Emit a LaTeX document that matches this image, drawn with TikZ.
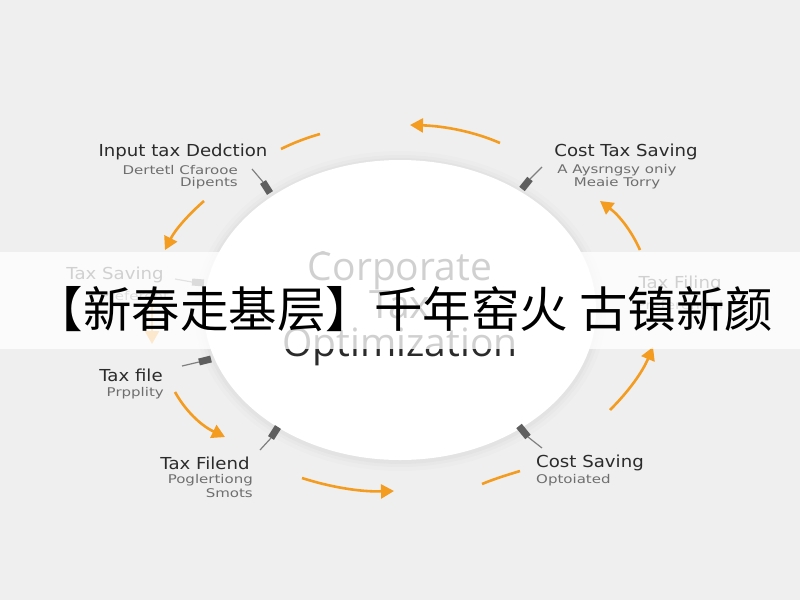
\documentclass[tikz,border=0pt]{standalone}
\usepackage{fontspec}
\setmainfont{Open Sans}
\newfontfamily\lblfont[FakeStretch=1.1]{DejaVu Sans}
\newfontfamily\sublblfont[FakeStretch=1.25]{DejaVu Sans}
\newfontfamily\cjk{Noto Sans CJK SC}
\usetikzlibrary{arrows.meta,shapes.geometric}
\definecolor{bg}{HTML}{EFEFEF}
\definecolor{org}{HTML}{F39C1F}
\definecolor{lab}{HTML}{2B2B2B}
\definecolor{sublab}{HTML}{6E6E6E}
\definecolor{pinc}{HTML}{5F5F5F}
\tikzset{
 lbl/.style={text=lab, font=\lblfont\fontsize{16.5}{18}\selectfont, inner sep=0pt},
 sublbl/.style={text=sublab, font=\sublblfont\fontsize{12}{13}\selectfont, inner sep=0pt},
 centertxt/.style={text=lab, font=\fontsize{39}{40}\selectfont, inner sep=0pt, anchor=base},
 flow/.style={draw=org, line width=2.6pt, -{Triangle[length=13pt,width=14pt]}},
 flowseg/.style={draw=org, line width=2.6pt},
 pinbody/.style={draw=pinc, line width=7pt},
 pinwire/.style={draw=pinc!80, line width=1.2pt},
}
\begin{document}
\begin{tikzpicture}[x=1pt,y=-1pt]
\path[use as bounding box, fill=bg] (0,0) rectangle (800,600);
% soft glow round the central ellipse
\foreach \d/\o in {10/0.012,6/0.015,3/0.02}{
  \fill[black, opacity=\o] (400,311) ellipse ({196+\d} and {150+\d});
}
\node[draw=none, fill=white, ellipse, minimum width=392pt, minimum height=300pt, inner sep=0pt] (hub) at (400,310) {};
% center text
\node[centertxt] (t1) at (400,280) {Corporate};
\node[centertxt] (t2) at (400,318) {Tax};
\node[centertxt] (t3) at (400,356) {Optimization};
% labels
\node[lbl] (l1) at (183,152) {Input tax Dedction};
\node[sublbl, anchor=east] (l1a) at (238,170) {Dertetl Cfarooe};
\node[sublbl, anchor=east] (l1b) at (238,183) {Dipents};
\node[lbl] (l2) at (626,152) {Cost Tax Saving};
\node[sublbl] (l2a) at (617,170) {A Aysrngsy oniy};
\node[sublbl] (l2b) at (617,183) {Meaie Torry};
\node[lbl] (l3) at (115,275) {Tax Saving};
\node[sublbl, anchor=west] (l3a) at (100,296) {Preferent};
\node[lbl] (l7) at (680,284) {Tax Filing};
\node[sublbl] (l7a) at (680,305) {Preferential};
\node[lbl] (l4) at (131,375) {Tax file};
\node[sublbl, anchor=east] (l4a) at (164,393) {Prpplity};
\node[lbl] (l5) at (205,463) {Tax Filend};
\node[sublbl, anchor=east] (l5a) at (253,480) {Poglertiong};
\node[sublbl, anchor=east] (l5b) at (253,493) {Smots};
\node[lbl, anchor=west] (l6) at (536,463) {Cost Saving};
\node[sublbl, anchor=west] (l6a) at (536,480) {Optoiated};
% pins
\coordinate (p1a) at (270,193); \coordinate (p1b) at (263,182); \coordinate (p1c) at (252,169);
\coordinate (p2a) at (522,189); \coordinate (p2b) at (530,179); \coordinate (p2c) at (542,167);
\coordinate (p3a) at (211,359); \coordinate (p3b) at (199,362); \coordinate (p3c) at (182,366);
\coordinate (p4a) at (278,427); \coordinate (p4b) at (271,438); \coordinate (p4c) at (260,450);
\coordinate (p5a) at (519,426); \coordinate (p5b) at (528,437); \coordinate (p5c) at (542,448);
\coordinate (p6a) at (204,283); \coordinate (p6b) at (192,282); \coordinate (p6c) at (175,279);
\foreach \p in {1,...,6}{
  \draw[pinbody] (p\p a) -- (p\p b);
  \draw[pinwire] (p\p b) -- (p\p c);
}
% flow arrows
\coordinate (a1s) at (500,143); \coordinate (a1e) at (410,125);
\coordinate (s1s) at (281,149); \coordinate (s1e) at (320,134);
\coordinate (a2s) at (204,201); \coordinate (a2e) at (165,250);
\coordinate (a3s) at (152,300); \coordinate (a3e) at (152,344);
\coordinate (a4s) at (175,392); \coordinate (a4e) at (225,437);
\coordinate (a5s) at (302,478); \coordinate (a5e) at (394,491);
\coordinate (s2s) at (482,484); \coordinate (s2e) at (520,471);
\coordinate (a6s) at (610,410); \coordinate (a6e) at (653,347);
\coordinate (a7s) at (640,250); \coordinate (a7e) at (600,201);
\draw[flow] (a1s) .. controls (475,132) and (445,126) .. (a1e);
\draw[flowseg] (s1s) .. controls (293,143) and (306,138) .. (s1e);
\draw[flow] (a2s) .. controls (188,215) and (175,230) .. (a2e);
\draw[flow] (a3s) -- (a3e);
\draw[flow] (a4s) .. controls (185,410) and (200,425) .. (a4e);
\draw[flow] (a5s) .. controls (330,487) and (360,492) .. (a5e);
\draw[flowseg] (s2s) .. controls (494,479) and (507,475) .. (s2e);
\draw[flow] (a6s) .. controls (628,392) and (642,373) .. (a6e);
\draw[flow] (a7s) .. controls (632,232) and (620,216) .. (a7e);
% translucent banner
\fill[white, opacity=0.78] (0,252) rectangle (800,349);
\node[text=black, font=\cjk\fontsize{48.5}{50}\selectfont, inner sep=0pt] (ban) at (404,309) {【新春走基层】千年窑火 古镇新颜};
\end{tikzpicture}
\end{document}
